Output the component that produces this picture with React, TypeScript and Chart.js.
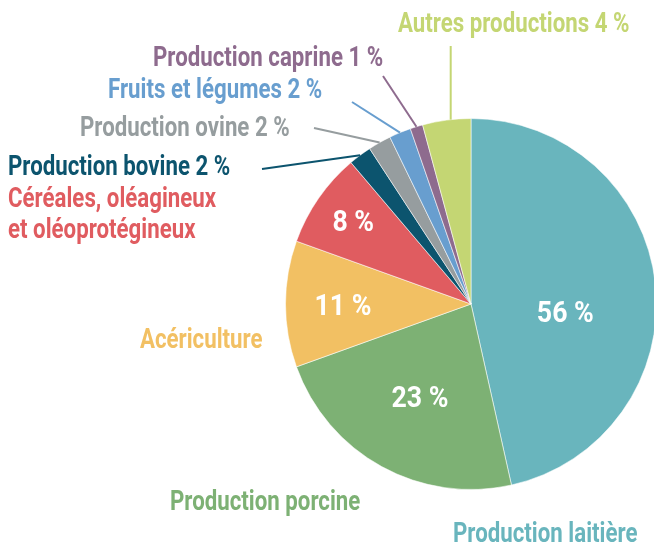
import React, { useEffect, useRef } from 'react';
import { Chart, registerables } from 'chart.js';

Chart.register(...registerables);

// ---- Data ----
const categories = [
  'Production laitière',
  'Production porcine',
  'Acériculture',
  'Céréales, oléagineux et oléoprotégineux',
  'Production bovine',
  'Production ovine',
  'Fruits et légumes',
  'Production caprine',
  'Autres productions',
];
// share of the circle as drawn in the picture
const drawnShares = [46.5, 23, 11, 8.3, 2, 2, 1.9, 1.1, 4.2];
// percentages printed on the picture
const printedShares = [56, 23, 11, 8, 2, 2, 2, 1, 4];
const sliceColors = [
  '#69B5BD',
  '#7DB174',
  '#F2C063',
  '#E05C60',
  '#0C546E',
  '#969D9F',
  '#689ECF',
  '#8E6B8E',
  '#C4D673',
];

// ---- Layout (text placement) ----
const FONT = 'Roboto';
const OUT_SX = 0.795; // horizontal condensing of the bold face
const IN_SX = 0.89;
const OUT_SIZE = 28;
const IN_SIZE = 30;

// inside labels: slice index -> radius fraction and angle shift (deg)
const insidePlacement: Record<number, { r: number; shift: number }> = {
  0: { r: 0.51, shift: 10.5 },
  1: { r: 0.57, shift: 0 },
  2: { r: 0.69, shift: 0 },
  3: { r: 0.78, shift: 0.8 },
};

// outside labels: slice index -> left x, first baseline y, lines
const outsidePlacement = [
  { x: 453, y: 542, lines: ['Production laitière'] },
  { x: 170, y: 510, lines: ['Production porcine'] },
  { x: 140, y: 348, lines: ['Acériculture'] },
  { x: 8, y: 207, lines: ['Céréales, oléagineux', 'et oléoprotégineux'] },
  { x: 8, y: 175, lines: null },
  { x: 80, y: 136, lines: null },
  { x: 108, y: 98, lines: null },
  { x: 153, y: 66, lines: null },
  { x: 398, y: 32, lines: null },
];
const LINE_GAP = 30.5;

// leader lines: slice index -> outer start point
const leaders: Record<number, { x: number; y: number; mode: 'mid' | 'vertical' }> = {
  4: { x: 262, y: 169, mode: 'mid' },
  5: { x: 314, y: 128, mode: 'mid' },
  6: { x: 352, y: 102, mode: 'mid' },
  7: { x: 383, y: 76, mode: 'mid' },
  8: { x: 450.7, y: 46, mode: 'vertical' },
};

function drawText(
  ctx: CanvasRenderingContext2D,
  text: string,
  x: number,
  y: number,
  size: number,
  sx: number,
  color: string,
  align: CanvasTextAlign
) {
  ctx.save();
  ctx.translate(x, y);
  ctx.scale(sx, 1);
  ctx.font = `bold ${size}px ${FONT}`;
  ctx.fillStyle = color;
  ctx.textAlign = align;
  ctx.textBaseline = 'alphabetic';
  ctx.fillText(text, 0, 0);
  ctx.restore();
}

const labelsPlugin = {
  id: 'pieLabels',
  afterDatasetsDraw(chart: any) {
    const ctx: CanvasRenderingContext2D = chart.ctx;
    const meta = chart.getDatasetMeta(0);
    meta.data.forEach((arc: any, i: number) => {
      const p = arc.getProps(['x', 'y', 'startAngle', 'endAngle', 'outerRadius'], true);
      const mid = (p.startAngle + p.endAngle) / 2;
      const R = p.outerRadius;

      // leader line
      const ld = leaders[i];
      if (ld) {
        let ex: number, ey: number;
        if (ld.mode === 'vertical') {
          ex = ld.x;
          ey = p.y - Math.sqrt(Math.max(R * R - (ld.x - p.x) ** 2, 0));
        } else {
          ex = p.x + R * Math.cos(mid);
          ey = p.y + R * Math.sin(mid);
        }
        ctx.save();
        ctx.strokeStyle = sliceColors[i];
        ctx.lineWidth = 2;
        ctx.beginPath();
        ctx.moveTo(ld.x, ld.y);
        ctx.lineTo(ex, ey);
        ctx.stroke();
        ctx.restore();
      }

      // inside value labels
      const ip = insidePlacement[i];
      if (ip) {
        const a = mid + (ip.shift * Math.PI) / 180;
        const tx = p.x + R * ip.r * Math.cos(a);
        const ty = p.y + R * ip.r * Math.sin(a);
        drawText(ctx, `${printedShares[i]} %`, tx, ty + (IN_SIZE * 0.711) / 2, IN_SIZE, IN_SX, '#FFFFFF', 'center');
      }

      // outside labels
      const op = outsidePlacement[i];
      const lines = op.lines ?? [`${categories[i]} ${printedShares[i]} %`];
      lines.forEach((ln, k) => {
        drawText(ctx, ln, op.x, op.y + k * LINE_GAP, OUT_SIZE, OUT_SX, sliceColors[i], 'left');
      });
    });
  },
};

export default function App() {
  const canvasRef = useRef<HTMLCanvasElement | null>(null);

  useEffect(() => {
    if (!canvasRef.current) return;
    const chart = new Chart(canvasRef.current, {
      type: 'pie',
      data: {
        labels: categories,
        datasets: [
          {
            data: drawnShares,
            backgroundColor: sliceColors,
            borderColor: 'rgba(255,255,255,0.55)',
            borderWidth: 1,
          },
        ],
      },
      options: {
        responsive: false,
        animation: false,
        layout: { padding: { left: 285, top: 118, right: 13, bottom: 56 } },
        plugins: {
          legend: { display: false },
          tooltip: { enabled: false },
        },
      },
      plugins: [labelsPlugin],
    });
    return () => chart.destroy();
  }, []);

  return (
    <div
      style={{
        position: 'absolute',
        left: 0,
        top: 0,
        width: 654,
        height: 546,
        overflow: 'hidden',
        background: '#FFFFFF',
      }}
    >
      <canvas ref={canvasRef} width={670} height={546} style={{ display: 'block' }} />
    </div>
  );
}
